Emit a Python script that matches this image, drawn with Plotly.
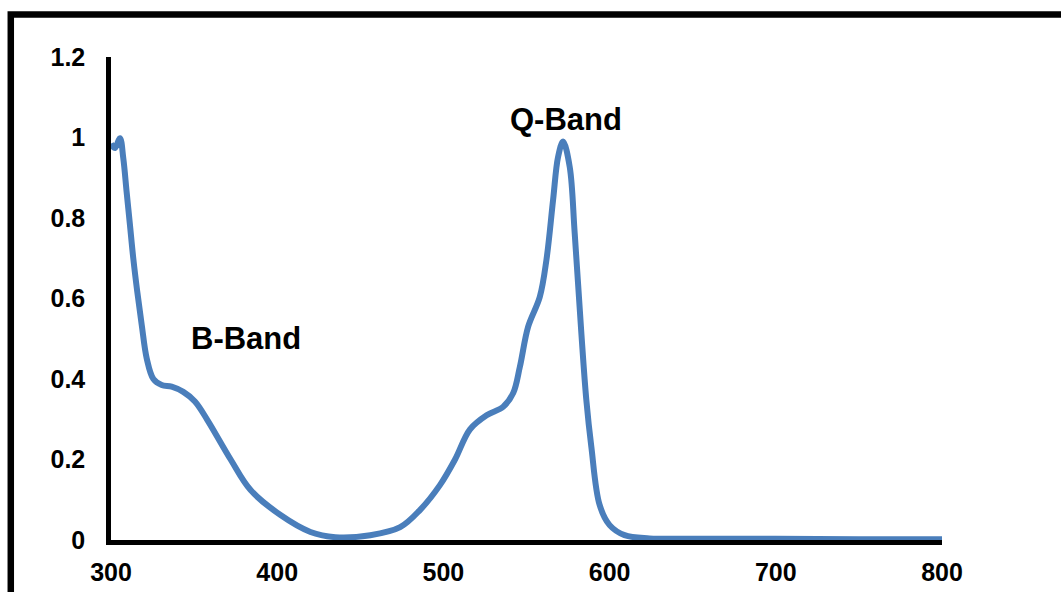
import plotly.graph_objects as go

wavelength = [300, 301, 302.4, 305.4, 307.4, 309.4, 311.4, 313.4, 315.8, 318.5, 321.5, 325.5, 330.5, 336.5, 343.5, 350.5, 358,
              372, 384, 402, 420, 435, 456, 474, 486, 498, 507, 516, 526, 536, 542, 546, 551,
              558, 562, 566, 569, 572, 576, 579, 583, 586, 589, 594, 600, 609, 624, 650, 700, 750, 800]
absorbance = [0.985, 0.978, 0.974, 0.998, 0.948, 0.865, 0.783, 0.70, 0.617, 0.534, 0.451, 0.40, 0.385, 0.381, 0.368, 0.344, 0.298,
              0.2, 0.124, 0.062, 0.02, 0.007, 0.012, 0.032, 0.075, 0.137, 0.2, 0.275, 0.31, 0.331, 0.365, 0.43, 0.53,
              0.604, 0.696, 0.845, 0.952, 0.99, 0.927, 0.762, 0.514, 0.348, 0.232, 0.087, 0.037, 0.012, 0.004, 0.003, 0.003, 0.002, 0.002]

x_ticks = [300, 400, 500, 600, 700, 800]
y_ticks = [0, 0.2, 0.4, 0.6, 0.8, 1.0, 1.2]
y_tick_text = ["0", "0.2", "0.4", "0.6", "0.8", "1", "1.2"]

labels = ["B-Band", "Q-Band"]
label_x = [381, 574]
label_y = [0.5, 1.045]

FONT = "Liberation Sans, Arial, sans-serif"

fig = go.Figure()
fig.add_trace(go.Scatter(
    x=wavelength, y=absorbance, mode="lines",
    line=dict(color="#4A7EBB", width=6, shape="spline", smoothing=1.0),
    showlegend=False, hoverinfo="skip"))

for t, xx, yy in zip(labels, label_x, label_y):
    fig.add_annotation(x=xx, y=yy, text="<b>%s</b>" % t, showarrow=False,
                       font=dict(family=FONT, size=31, color="black"),
                       xanchor="center", yanchor="middle")

fig.add_shape(type="rect", xref="paper", yref="paper",
              x0=-0.1206, y0=-0.3, x1=1.3, y1=1.088,
              line=dict(color="black", width=6.5), fillcolor="rgba(0,0,0,0)", layer="above")

fig.update_layout(
    width=1061, height=592,
    margin=dict(l=111, r=119, t=57, b=52, autoexpand=False),
    paper_bgcolor="white", plot_bgcolor="white",
    font=dict(family=FONT, size=25, color="black"),
    xaxis=dict(range=[300, 800], tickvals=x_ticks, ticktext=[f"<b>{v}</b>" for v in x_ticks],
               showgrid=False, zeroline=False, showline=True, linecolor="black", linewidth=4.5,
               ticks="", ticklabelstandoff=6, automargin=False),
    yaxis=dict(range=[0, 1.2], tickvals=y_ticks, ticktext=[f"<b>{v}</b>" for v in y_tick_text],
               showgrid=False, zeroline=False, showline=True, linecolor="black", linewidth=4.5,
               ticks="", ticklabelstandoff=16, automargin=False),
)

fig.write_html("out.html")
